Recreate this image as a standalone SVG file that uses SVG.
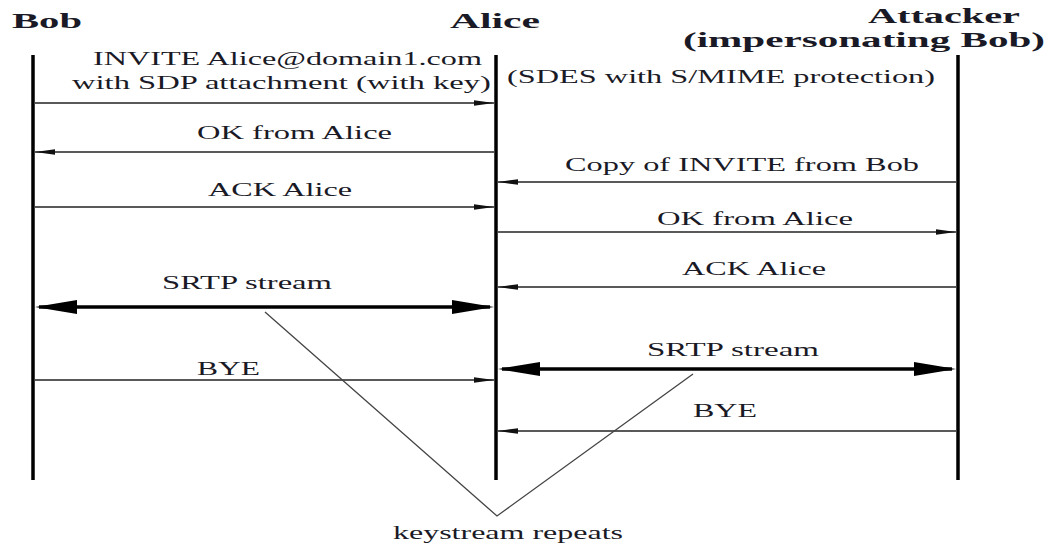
<svg xmlns="http://www.w3.org/2000/svg" width="1050" height="548" viewBox="0 0 1050 548">
  <defs>
    <style>
      text { font-family: "Liberation Serif", "Times New Roman", serif; fill: #1a1a26; }
      .hdr { font-weight: bold; font-size: 20px; }
      .lbl { font-size: 19px; }
      .life { stroke: #000; stroke-width: 3.5; }
      .msg { stroke: #222; stroke-width: 1.4; fill: none; }
      .srtp { stroke: #000; stroke-width: 3.5; fill: none; }
      .note { stroke: #444; stroke-width: 1.3; fill: none; }
    </style>
    <!-- small filled head for plain messages -->
    <marker id="ah" markerUnits="userSpaceOnUse" markerWidth="22" markerHeight="8" refX="20" refY="4" orient="auto">
      <path d="M0,1.2 L20,4 L0,6.8 Z" fill="#111"/>
    </marker>
    <!-- large head for the media streams -->
    <marker id="big" markerUnits="userSpaceOnUse" markerWidth="42" markerHeight="16" refX="38" refY="8" orient="auto-start-reverse">
      <path d="M0,1 L42,8 L0,15 Z" fill="#000"/>
    </marker>
  </defs>

  <rect width="1050" height="548" fill="#fff"/>

  <!-- participants -->
  <g id="bob">
    <text class="hdr" x="12" y="28" textLength="70" lengthAdjust="spacingAndGlyphs">Bob</text>
    <line class="life" x1="33" y1="55" x2="33" y2="480"/>
  </g>
  <g id="alice">
    <text class="hdr" x="450" y="28" textLength="90" lengthAdjust="spacingAndGlyphs">Alice</text>
    <line class="life" x1="496" y1="55" x2="496" y2="480"/>
  </g>
  <g id="attacker">
    <text class="hdr" x="868" y="23" textLength="152" lengthAdjust="spacingAndGlyphs">Attacker</text>
    <text class="hdr" x="683" y="47" textLength="362" lengthAdjust="spacingAndGlyphs">(impersonating Bob)</text>
    <line class="life" x1="958" y1="55" x2="958" y2="480"/>
  </g>

  <!-- messages -->
  <g id="connectors">
    <line class="msg" x1="35" y1="103" x2="494" y2="103" marker-end="url(#ah)"/>
    <line class="msg" x1="494" y1="152" x2="35" y2="152" marker-end="url(#ah)"/>
    <line class="msg" x1="35" y1="207" x2="494" y2="207" marker-end="url(#ah)"/>
    <line class="msg" x1="956" y1="182" x2="498" y2="182" marker-end="url(#ah)"/>
    <line class="msg" x1="498" y1="232" x2="956" y2="232" marker-end="url(#ah)"/>
    <line class="msg" x1="956" y1="287" x2="498" y2="287" marker-end="url(#ah)"/>
    <line class="srtp" x1="39" y1="307" x2="490" y2="307" marker-start="url(#big)" marker-end="url(#big)"/>
    <line class="msg" x1="35" y1="380" x2="494" y2="380" marker-end="url(#ah)"/>
    <line class="srtp" x1="502" y1="369" x2="952" y2="369" marker-start="url(#big)" marker-end="url(#big)"/>
    <line class="msg" x1="956" y1="431" x2="498" y2="431" marker-end="url(#ah)"/>
    <!-- keystream reuse pointer -->
    <polyline class="note" points="265,312 497,516 693,374"/>
  </g>

  <!-- message labels -->
  <g id="labels">
    <text class="lbl" x="93" y="65" textLength="389" lengthAdjust="spacingAndGlyphs">INVITE Alice@domain1.com</text>
    <text class="lbl" x="72" y="89" textLength="419" lengthAdjust="spacingAndGlyphs">with SDP attachment  (with key)</text>
    <text class="lbl" x="507" y="83" textLength="428" lengthAdjust="spacingAndGlyphs">(SDES with S/MIME protection)</text>
    <text class="lbl" x="197" y="139" textLength="195" lengthAdjust="spacingAndGlyphs">OK from Alice</text>
    <text class="lbl" x="208" y="196" textLength="144" lengthAdjust="spacingAndGlyphs">ACK Alice</text>
    <text class="lbl" x="565" y="171" textLength="354" lengthAdjust="spacingAndGlyphs">Copy of INVITE from Bob</text>
    <text class="lbl" x="657" y="225" textLength="196" lengthAdjust="spacingAndGlyphs">OK from Alice</text>
    <text class="lbl" x="682" y="275" textLength="144" lengthAdjust="spacingAndGlyphs">ACK Alice</text>
    <text class="lbl" x="162" y="289" textLength="170" lengthAdjust="spacingAndGlyphs">SRTP stream</text>
    <text class="lbl" x="197" y="375" textLength="63" lengthAdjust="spacingAndGlyphs">BYE</text>
    <text class="lbl" x="647" y="356" textLength="172" lengthAdjust="spacingAndGlyphs">SRTP stream</text>
    <text class="lbl" x="693" y="417" textLength="64" lengthAdjust="spacingAndGlyphs">BYE</text>
    <text class="lbl" x="393" y="539" textLength="230" lengthAdjust="spacingAndGlyphs">keystream repeats</text>
  </g>
</svg>
